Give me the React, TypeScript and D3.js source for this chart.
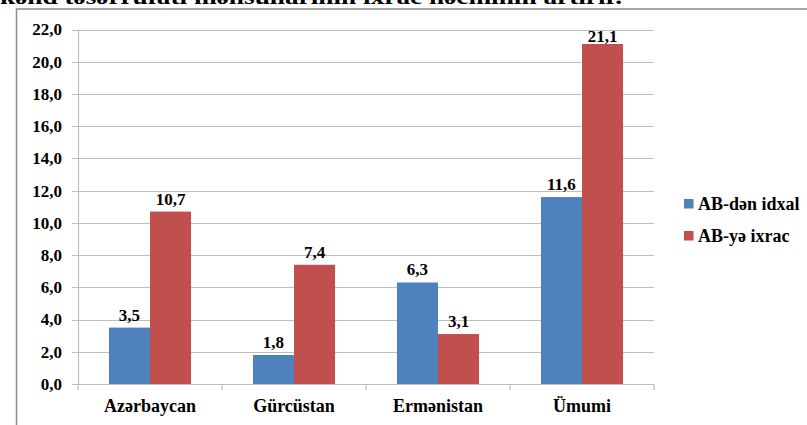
import React from 'react'
import * as d3 from 'd3'

const categories = ['Azərbaycan', 'Gürcüstan', 'Ermənistan', 'Ümumi']
const imports = [3.5, 1.8, 6.3, 11.6]
const exports = [10.7, 7.4, 3.1, 21.1]
const seriesNames = ['AB-dən idxal', 'AB-yə ixrac']
const seriesColors = ['#4F81BD', '#C0504D']
const yTicks = [0, 2, 4, 6, 8, 10, 12, 14, 16, 18, 20, 22]
const caption = 'kənd təsərrüfatı məhsullarının ixrac həcminin artırır.'

const W = 807
const H = 425
const txt = {
  fontFamily: "Tinos, 'Times New Roman', Times, 'Liberation Serif', 'Noto Serif', 'DejaVu Serif', FreeSerif, serif",
  fontWeight: 700,
} as React.CSSProperties

export default function App() {
  const x = d3.scaleBand().domain(categories).range([78, 654]).paddingInner(0.43).paddingOuter(0.215)
  const y = d3.scaleLinear().domain([0, 22]).range([384, 29.5])
  const fmt = (v: number) => v.toFixed(1).replace('.', ',')
  const series = [imports, exports]
  const bw = x.bandwidth() / 2

  return (
    <svg width={W} height={H} style={{ position: 'absolute', left: 0, top: 0 }}>
      <rect width={W} height={H} fill="#fff" />
      <text x={0} y={3.5} fontSize={22} style={txt} textLength={622} lengthAdjust="spacingAndGlyphs">{caption}</text>
      <path d={`M16.5,${H}V9H${W}`} fill="none" stroke="#8c8c8c" strokeWidth={1.5} />

      {yTicks.map(t => (
        <g key={t}>
          <line x1={72} x2={654} y1={Math.round(y(t)) + 0.5} y2={Math.round(y(t)) + 0.5} stroke="#bdbdbd" strokeWidth={1.2} />
          <text x={62} y={y(t)} dy="0.35em" textAnchor="end" fontSize={17} style={txt}>{fmt(t)}</text>
        </g>
      ))}
      <line x1={78.5} x2={78.5} y1={y(22)} y2={384} stroke="#bdbdbd" strokeWidth={1.2} />
      {[0, 1, 2, 3, 4].map(i => {
        const xx = 78 + i * x.step()
        return <line key={i} x1={xx} x2={xx} y1={384} y2={390} stroke="#bdbdbd" strokeWidth={1.2} />
      })}

      {categories.map((c, ci) => (
        <g key={c}>
          {series.map((s, si) => {
            const bx = (x(c) as number) + si * bw
            const top = y(s[ci])
            return (
              <g key={si}>
                <rect x={bx} y={top} width={bw} height={384 - top} fill={seriesColors[si]} />
                <text x={bx + bw / 2} y={Math.max(top - 7, 41.5)} textAnchor="middle" fontSize={17} style={txt}>{fmt(s[ci])}</text>
              </g>
            )
          })}
          <text x={(x(c) as number) + x.bandwidth() / 2} y={412} textAnchor="middle" fontSize={18} style={txt}>{c}</text>
        </g>
      ))}

      {seriesNames.map((n, i) => (
        <g key={n} transform={`translate(684,${199 + i * 32})`}>
          <rect width={9.5} height={9.5} fill={seriesColors[i]} />
          <text x={14} y={11} fontSize={18} style={txt}>{n}</text>
        </g>
      ))}
    </svg>
  )
}
